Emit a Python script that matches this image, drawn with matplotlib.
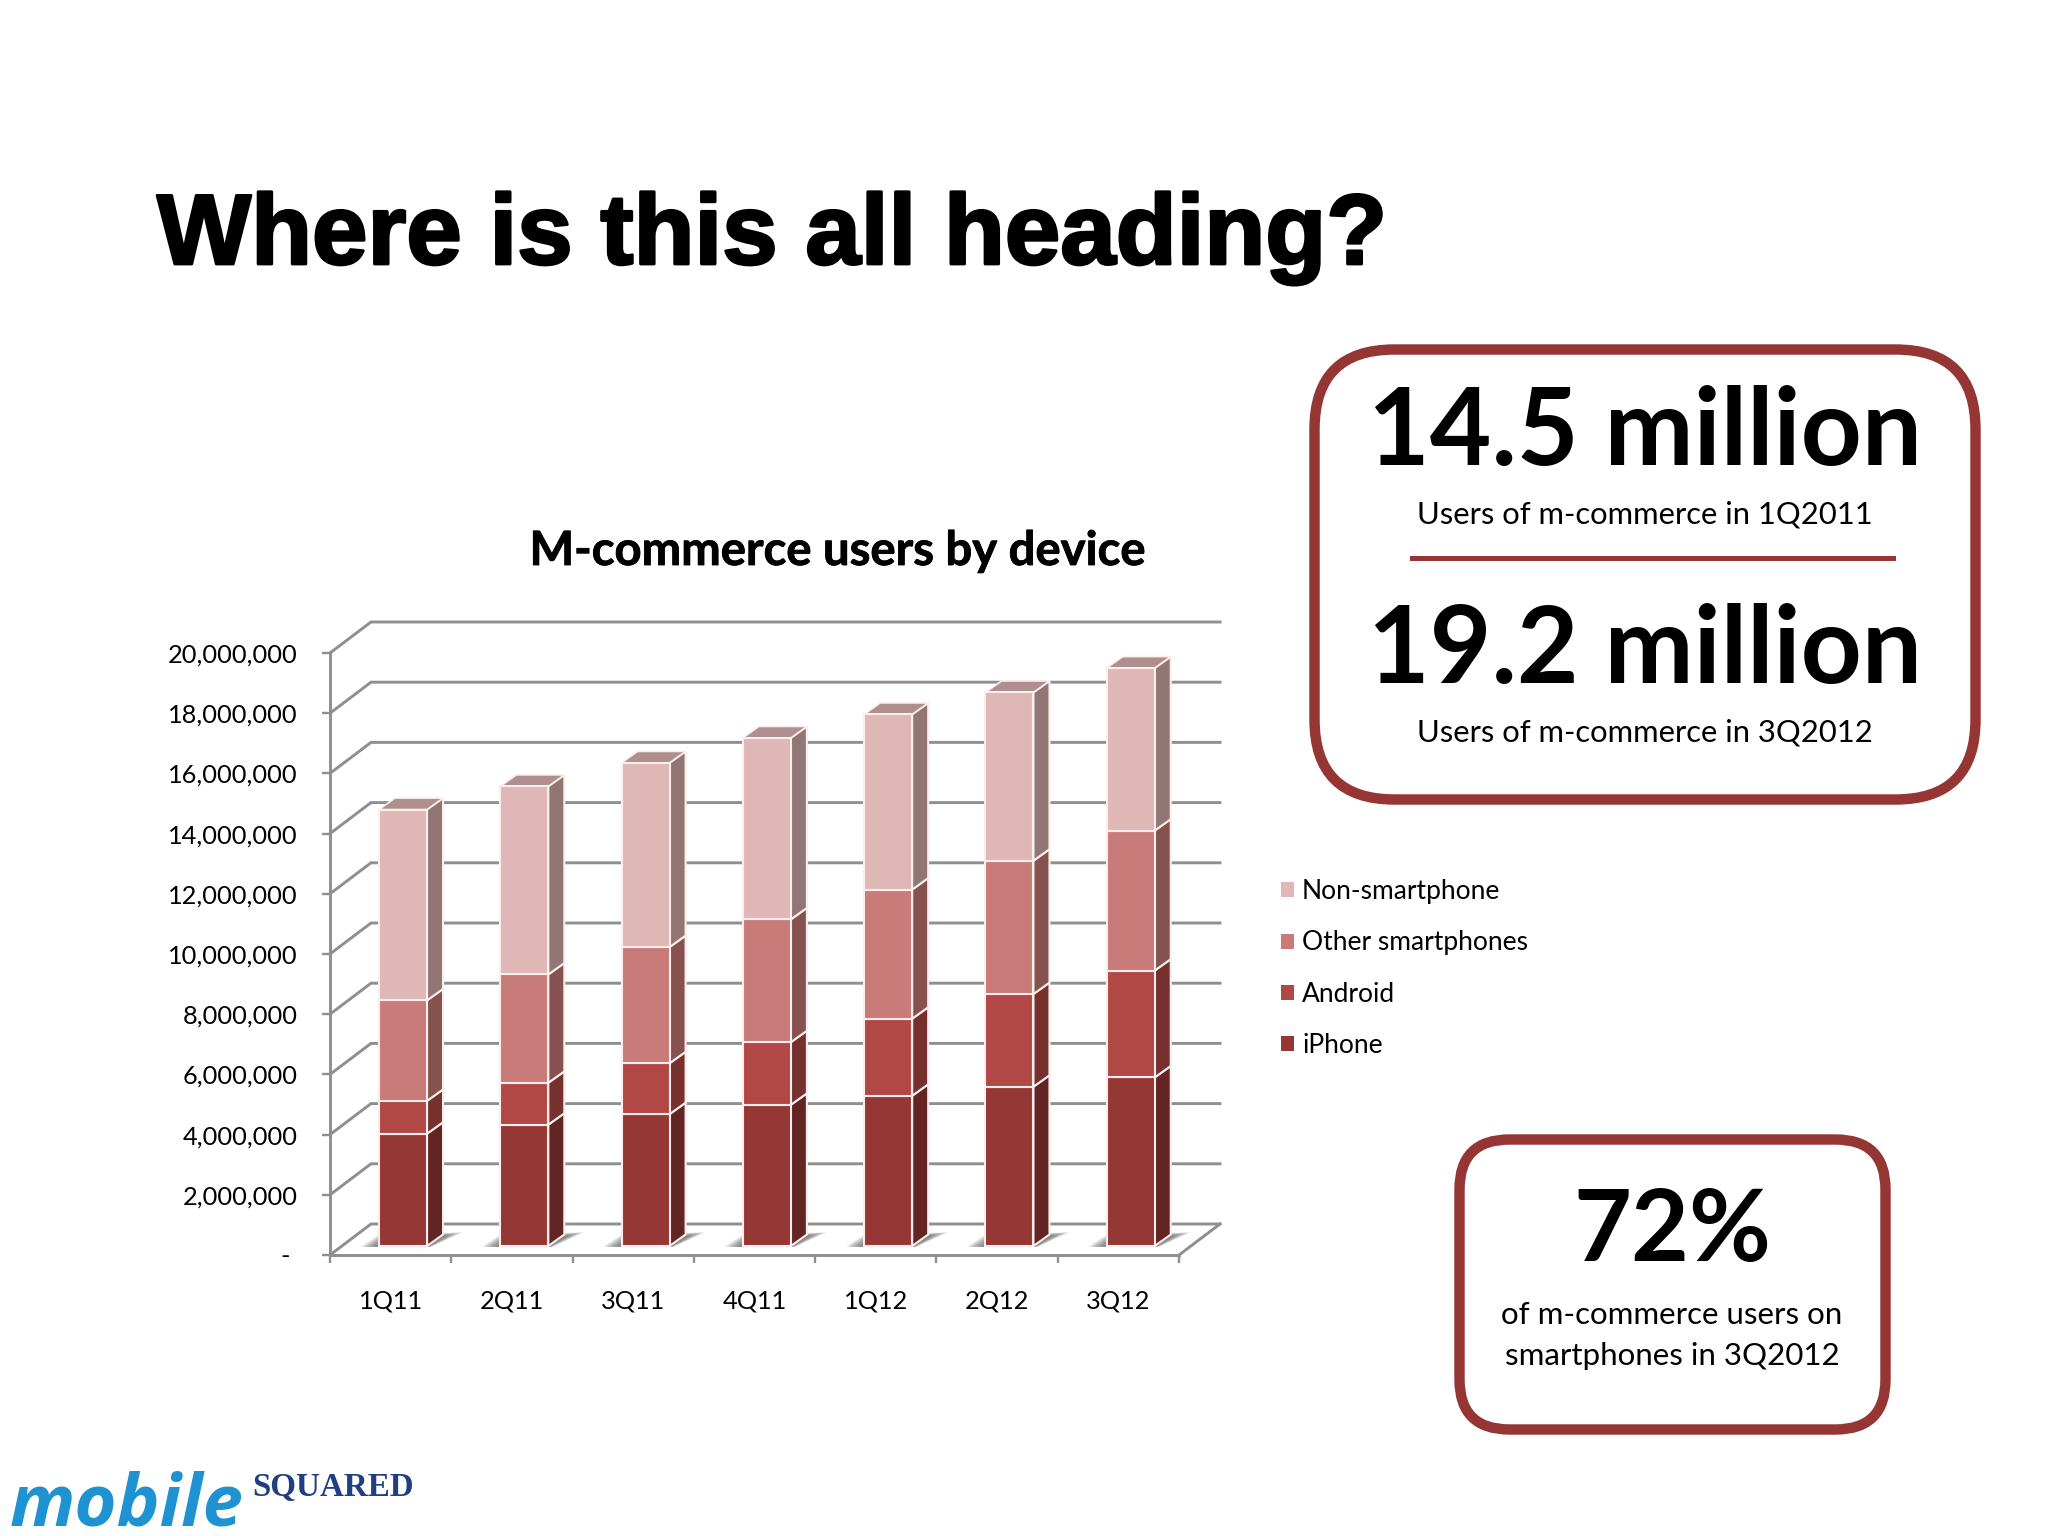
import matplotlib
matplotlib.use('Agg')
import matplotlib.pyplot as plt
import matplotlib.patheffects as pe
from matplotlib.patches import FancyBboxPatch, Patch
import numpy as np

# Data, in users per quarter
quarters = ['1Q11', '2Q11', '3Q11', '4Q11', '1Q12', '2Q12', '3Q12']
iphone = [3730000, 4030000, 4380000, 4690000, 4990000, 5290000, 5600000]
android = [1090000, 1390000, 1690000, 2080000, 2560000, 3080000, 3550000]
other = [3340000, 3600000, 3860000, 4080000, 4290000, 4430000, 4650000]
non_smartphone = [6340000, 6250000, 6120000, 6030000, 5820000, 5590000, 5400000]
y_ticks = [0, 2000000, 4000000, 6000000, 8000000, 10000000, 12000000, 14000000,
           16000000, 18000000, 20000000]

series = [iphone, android, other, non_smartphone]
names = ['iPhone', 'Android', 'Other smartphones', 'Non-smartphone']
front_colors = ['#953735', '#B24846', '#C97B79', '#DFB7B6']
side_colors = ['#632523', '#76302E', '#85524F', '#927675']
top_color = '#AE8E8E'
edge_color = '#FBEEEC'
grid_color = '#8F8F8F'

# Pseudo-3D geometry, in axis units
WALL_DX = 0.338
WALL_DY = 1030000
BAR_LEFT = 0.404
BAR_WIDTH = 0.396
BAR_LIFT = 300000
SIDE_DX = 0.132
SIDE_DY = 380000

W, H = 2048, 1536
fig = plt.figure(figsize=(20.48, 15.36), dpi=100, facecolor='white')

# Chart axes, the front plane of the 3D box
ax = fig.add_axes([330 / W, 1 - 1255 / H, 849 / W, 602 / H])
ax.set_xlim(0, len(quarters))
ax.set_ylim(0, 20000000)
ax.patch.set_alpha(0)

for y in y_ticks:
    ax.plot([0, WALL_DX, len(quarters) + WALL_DX], [y, y + WALL_DY, y + WALL_DY],
            color=grid_color, lw=2.1, clip_on=False, zorder=1, solid_joinstyle='miter')
ax.plot([len(quarters), len(quarters) + WALL_DX], [0, WALL_DY],
        color=grid_color, lw=2.1, clip_on=False, zorder=1)

# Soft floor shadows
for i in range(len(quarters)):
    left = i + BAR_LEFT
    right = left + BAR_WIDTH
    for k in np.linspace(1.1, 0.1, 14):
        ax.fill([left - 0.14 * k, left, right + SIDE_DX + 0.15 * k, right + 0.03 * k],
                [BAR_LIFT - 30000, BAR_LIFT + 350000 * k, BAR_LIFT + 330000 + 120000 * min(k, 1), BAR_LIFT - 30000],
                color='#5A5A5A', alpha=0.09, lw=0, clip_on=False, zorder=1.5)

# Bars: front faces, side faces, top of the stack
bottom = np.zeros(len(quarters)) + BAR_LIFT
x_left = np.arange(len(quarters)) + BAR_LEFT
for values, front, side in zip(series, front_colors, side_colors):
    values = np.array(values)
    ax.bar(x_left, values, BAR_WIDTH, bottom=bottom, align='edge', color=front,
           edgecolor=edge_color, linewidth=1.5, clip_on=False, zorder=3)
    for x0, y0, v in zip(x_left, bottom, values):
        x1 = x0 + BAR_WIDTH
        ax.fill([x1, x1 + SIDE_DX, x1 + SIDE_DX, x1],
                [y0, y0 + SIDE_DY, y0 + v + SIDE_DY, y0 + v],
                facecolor=side, edgecolor=edge_color, lw=1.5, clip_on=False, zorder=2.5)
    bottom = bottom + values
for x0, y0 in zip(x_left, bottom):
    ax.fill([x0, x0 + SIDE_DX, x0 + BAR_WIDTH + SIDE_DX, x0 + BAR_WIDTH],
            [y0, y0 + SIDE_DY, y0 + SIDE_DY, y0],
            facecolor=top_color, edgecolor=edge_color, lw=1.2, clip_on=False, zorder=2.5)

for name in ['top', 'right']:
    ax.spines[name].set_visible(False)
for name in ['left', 'bottom']:
    ax.spines[name].set_color(grid_color)
    ax.spines[name].set_linewidth(2.1)
    ax.spines[name].set_zorder(2)

ax.set_yticks(y_ticks)
ax.set_yticklabels(['- '] + [f'{v:,}' for v in y_ticks[1:]], fontfamily='Lato', fontsize=18.3, color='black')
ax.tick_params(axis='y', length=6, width=1.7, color=grid_color, pad=17.5)
ax.set_xticks(range(len(quarters) + 1))
ax.set_xticklabels([])
ax.tick_params(axis='x', which='major', length=6, width=1.7, color=grid_color)
ax.set_xticks(np.arange(len(quarters)) + 0.5, minor=True)
ax.set_xticklabels(quarters, minor=True, fontfamily='Lato', fontsize=18.3, color='black')
ax.tick_params(axis='x', which='minor', length=0, pad=25)

handles = [Patch(facecolor=c, edgecolor='none', label=n) for c, n in zip(front_colors, names)]
leg = ax.legend(handles=handles[::-1], loc='upper left', frameon=False,
                bbox_to_anchor=(1281 / W, 1 - 879 / H), bbox_transform=fig.transFigure,
                prop={'family': 'Lato', 'size': 19}, labelspacing=1.0, handlelength=0.5,
                handleheight=0.5, handletextpad=0.3, borderpad=0, borderaxespad=0)

# Overlay in pixel coordinates for the slide furniture
page = fig.add_axes([0, 0, 1, 1])
page.set_xlim(0, W)
page.set_ylim(H, 0)
page.axis('off')
page.patch.set_alpha(0)

heading = page.text(157, 238, 'Where is this all heading?', family='Liberation Sans', weight='bold',
                    fontsize=71.8, color='black', va='center', ha='left')
heading.set_path_effects([pe.withStroke(linewidth=2, foreground='black')])

chart_title = page.text(838, 551, 'M-commerce users by device', family='Lato', weight='bold', fontsize=34,
                        color='black', ha='center', va='center')
chart_title.set_path_effects([pe.withStroke(linewidth=0.6, foreground='black')])

RED = '#963634'
page.add_patch(FancyBboxPatch((1314.5, 349.5), 661, 450, boxstyle='round,pad=0,rounding_size=80',
                              facecolor='white', edgecolor=RED, lw=7.5))
page.add_patch(FancyBboxPatch((1459.5, 1139.5), 426, 290, boxstyle='round,pad=0,rounding_size=50',
                              facecolor='white', edgecolor=RED, lw=7.5))
page.plot([1412, 1893], [558, 558], color=RED, lw=3.6)

page.text(1645, 434, '14.5 million', family='Lato', weight='bold', fontsize=76.7, ha='center', va='center')
page.text(1645, 515, 'Users of m-commerce in 1Q2011', family='Lato', fontsize=22.3, ha='center', va='center')
page.text(1645, 652, '19.2 million', family='Lato', weight='bold', fontsize=76.7, ha='center', va='center')
page.text(1645, 733, 'Users of m-commerce in 3Q2012', family='Lato', fontsize=22.3, ha='center', va='center')
page.text(1672, 1233, '72%', family='Lato', weight='bold', fontsize=72, ha='center', va='center')
page.text(1672, 1315, 'of m-commerce users on', family='Lato', fontsize=22.5, ha='center', va='center')
page.text(1672, 1356, 'smartphones in 3Q2012', family='Lato', fontsize=22.5, ha='center', va='center')

# Logo text
page.text(10, 1526, 'mobile', family='Open Sans', weight='bold', style='italic', fontsize=52,
          color='#1F93D2', ha='left', va='baseline')
page.text(252, 1496, 'SQUARED', family='Liberation Serif', weight='bold', fontsize=23.8,
          color='#1F3F80', ha='left', va='baseline')

fig.savefig('out.png', dpi=100, facecolor='white')
